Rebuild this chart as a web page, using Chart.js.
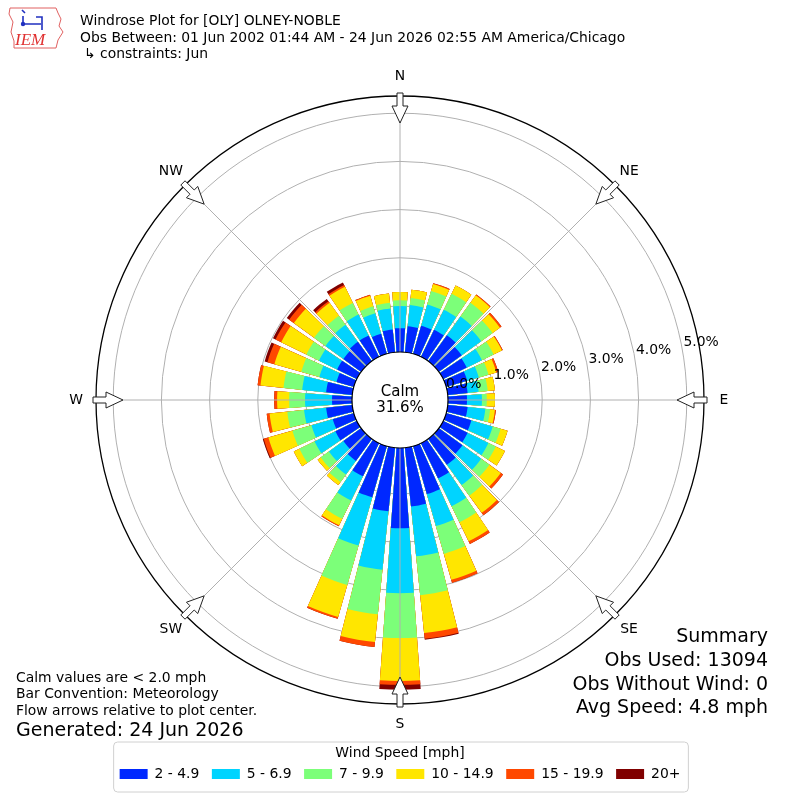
<!DOCTYPE html>
<html>
<head>
<meta charset="utf-8">
<title>Windrose Plot for [OLY] OLNEY-NOBLE</title>
<script src="https://cdn.jsdelivr.net/npm/chart.js@4.4.1/dist/chart.umd.min.js"></script>
<style>
  html, body { margin: 0; padding: 0; background: #fff; }
  #wrap { position: relative; width: 800px; height: 800px; font-family: 'DejaVu Sans', sans-serif; color: #000; }
  #wrap canvas { position: absolute; left: 0; top: 0; }
  .t { position: absolute; white-space: nowrap; font-size: 13.9px; line-height: 16px; }
  .big { font-size: 19px; line-height: 22px; }
  .r { right: 32px; text-align: right; }
  #logo { position: absolute; left: 6px; top: 4px; }
</style>
</head>
<body>
<div id="wrap">
  <canvas id="rose" width="800" height="800"></canvas>
  <svg id="logo" width="60" height="48" viewBox="0 0 60 48">
    <path d="M4 4 L50 4 L52 9 L55 15 L53 22 L57 28 L52 36 L50 44 L8 44 L8 37 L5 28 L7 18 L3 10 Z" fill="none" stroke="#e06060" stroke-width="1"/>
    <path d="M16 6 l3 3 M17 12 v8 M17 20 h18 M30 13 h6 v7 M36 20 v6" fill="none" stroke="#2030c0" stroke-width="1.6"/>
    <circle cx="17" cy="20" r="2.2" fill="#2030c0"/>
    <text x="9" y="41" font-family="Liberation Serif, serif" font-style="italic" font-size="17" fill="#e03030">IEM</text>
  </svg>
  <div class="t" style="left:80px;top:12px">Windrose Plot for [OLY] OLNEY-NOBLE</div>
  <div class="t" style="left:80px;top:29px">Obs Between: 01 Jun 2002 01:44 AM - 24 Jun 2026 02:55 AM America/Chicago</div>
  <div class="t" style="left:84px;top:45px">↳ constraints: Jun</div>

  <div class="t" style="left:16px;top:669px">Calm values are &lt; 2.0 mph</div>
  <div class="t" style="left:16px;top:685px">Bar Convention: Meteorology</div>
  <div class="t" style="left:16px;top:702px">Flow arrows relative to plot center.</div>
  <div class="t big" style="left:16px;top:718px">Generated: 24 Jun 2026</div>

  <div class="t big r" style="top:624px">Summary</div>
  <div class="t big r" style="top:648px">Obs Used: 13094</div>
  <div class="t big r" style="top:672px">Obs Without Wind: 0</div>
  <div class="t big r" style="top:695px">Avg Speed: 4.8 mph</div>
</div>

<script>
// direction bins (degrees, meteorological: where the wind comes from)
const directions = [0, 10, 20, 30, 40, 50, 60, 70, 80, 90, 100, 110,
                    120, 130, 140, 150, 160, 170, 180, 190, 200, 210, 220, 230,
                    240, 250, 260, 270, 280, 290, 300, 310, 320, 330, 340, 350];
const speedBins = ['2 - 4.9', '5 - 6.9', '7 - 9.9', '10 - 14.9', '15 - 19.9', '20+'];
const binColors = ['#0028ff', '#00d4ff', '#7cff79', '#ffe600', '#ff4800', '#800000'];

// frequency (%) per direction for each speed bin
const s2to5   = [0.54, 0.59, 0.65, 0.67, 0.71, 0.63, 0.59, 0.50, 0.46, 0.44, 0.46, 0.59,
                 0.61, 0.65, 0.71, 0.86, 1.08, 1.27, 1.71, 1.37, 1.15, 0.81, 0.61, 0.50,
                 0.54, 0.50, 0.59, 0.46, 0.59, 0.42, 0.50, 0.50, 0.54, 0.54, 0.48, 0.52];
const s5to7   = [0.46, 0.44, 0.46, 0.46, 0.48, 0.50, 0.35, 0.25, 0.23, 0.31, 0.37, 0.46,
                 0.48, 0.48, 0.52, 0.64, 0.69, 1.04, 1.35, 1.22, 1.04, 0.56, 0.35, 0.37,
                 0.48, 0.46, 0.46, 0.56, 0.50, 0.37, 0.42, 0.46, 0.44, 0.48, 0.44, 0.44];
const s7to10  = [0.12, 0.15, 0.29, 0.37, 0.35, 0.29, 0.27, 0.21, 0.19, 0.10, 0.10, 0.17,
                 0.17, 0.21, 0.27, 0.37, 0.60, 0.81, 0.93, 0.93, 0.85, 0.42, 0.19, 0.21,
                 0.35, 0.41, 0.35, 0.33, 0.39, 0.39, 0.29, 0.29, 0.23, 0.27, 0.15, 0.12];
const s10to15 = [0.17, 0.17, 0.15, 0.19, 0.19, 0.19, 0.19, 0.17, 0.15, 0.17, 0.10, 0.15,
                 0.21, 0.29, 0.44, 0.44, 0.56, 0.79, 0.89, 0.58, 0.69, 0.15, 0.08, 0.08,
                 0.13, 0.52, 0.37, 0.25, 0.48, 0.58, 0.58, 0.52, 0.33, 0.37, 0.23, 0.19];
const s15to20 = [0, 0, 0.02, 0, 0.02, 0.04, 0.02, 0.04, 0, 0, 0.02, 0,
                 0, 0.06, 0.06, 0.06, 0.06, 0.12, 0.08, 0.10, 0.04, 0.02, 0, 0,
                 0, 0.10, 0.06, 0.06, 0.06, 0.15, 0.13, 0.12, 0.04, 0.04, 0.02, 0];
const s20up   = [0, 0, 0, 0, 0, 0, 0, 0, 0, 0, 0, 0,
                 0, 0, 0, 0, 0, 0.02, 0.10, 0, 0, 0, 0, 0,
                 0, 0.02, 0, 0, 0, 0.06, 0.06, 0.06, 0.06, 0.06, 0, 0];

const tickValues = [0, 1, 2, 3, 4, 5];
const tickLabels = ['0.0%', '1.0%', '2.0%', '3.0%', '4.0%', '5.0%'];
const compassNames = ['N', 'NE', 'E', 'SE', 'S', 'SW', 'W', 'NW'];
const calmPct = 31.6;

// radial scale: 0% sits at the edge of the calm circle
const R_MIN = -0.95, R_MAX = 5.357;
const BAR_DEG = 8.2, GAP_DEG = 1.8;
const CALM_R = 48;

const seriesList = [s2to5, s5to7, s7to10, s10to15, s15to20, s20up];

// each bar slot is followed by an empty slot that makes the white gap
const labels = [];
directions.forEach(d => { labels.push(d + '°'); labels.push(''); });

// polar area arcs all start at the centre, so stack by drawing cumulative totals
let running = directions.map(() => 0);
const datasets = seriesList.map((vals, k) => {
  running = running.map((v, i) => v + vals[i]);
  const data = [];
  running.forEach(v => { data.push(+v.toFixed(3)); data.push(0); });
  return {
    label: speedBins[k],
    data: data,
    backgroundColor: c => (c.index % 2 ? 'rgba(0,0,0,0)' : binColors[k]),
    borderWidth: 0,
    angle: c => (c.index % 2 ? GAP_DEG : BAR_DEG)
  };
});

const roseDecor = {
  id: 'roseDecor',
  afterDraw(chart) {
    const ctx = chart.ctx;
    const s = chart.scales.r;
    const cx = s.xCenter, cy = s.yCenter, R = s.drawingArea;
    ctx.save();

    // spokes every 45 degrees
    ctx.strokeStyle = '#b0b0b0';
    ctx.lineWidth = 1;
    compassNames.forEach((n, i) => {
      const a = i * Math.PI / 4;
      ctx.beginPath();
      ctx.moveTo(cx + Math.sin(a) * CALM_R, cy - Math.cos(a) * CALM_R);
      ctx.lineTo(cx + Math.sin(a) * R, cy - Math.cos(a) * R);
      ctx.stroke();
    });

    // calm circle
    ctx.beginPath();
    ctx.arc(cx, cy, CALM_R, 0, Math.PI * 2);
    ctx.fillStyle = '#fff';
    ctx.fill();
    ctx.strokeStyle = '#000';
    ctx.lineWidth = 1.2;
    ctx.stroke();
    ctx.fillStyle = '#000';
    ctx.font = '15px "DejaVu Sans"';
    ctx.textAlign = 'center';
    ctx.textBaseline = 'middle';
    ctx.fillText('Calm', cx, cy - 8);
    ctx.fillText(calmPct.toFixed(1) + '%', cx, cy + 8);

    // percentage labels along a ray 10 degrees above east
    ctx.font = '13.9px "DejaVu Sans"';
    ctx.textAlign = 'left';
    const ra = 10 * Math.PI / 180;
    tickValues.forEach((v, i) => {
      const d = s.getDistanceFromCenterForValue(v);
      ctx.fillText(tickLabels[i], cx + d * Math.cos(ra) + 1, cy - d * Math.sin(ra) - 8);
    });

    // compass arrows and names
    ctx.textAlign = 'center';
    compassNames.forEach((n, i) => {
      const a = i * Math.PI / 4;
      const ux = Math.sin(a), uy = -Math.cos(a);
      const px = Math.cos(a), py = Math.sin(a);
      const pt = (r, w) => [cx + ux * r + px * w, cy + uy * r + py * w];
      const shape = [[R + 3, -3], [R - 10, -3], [R - 10, -8], [R - 27, 0],
                     [R - 10, 8], [R - 10, 3], [R + 3, 3]];
      ctx.beginPath();
      shape.forEach((p, j) => {
        const q = pt(p[0], p[1]);
        if (j === 0) ctx.moveTo(q[0], q[1]); else ctx.lineTo(q[0], q[1]);
      });
      ctx.closePath();
      ctx.fillStyle = '#fff';
      ctx.fill();
      ctx.strokeStyle = '#222';
      ctx.lineWidth = 1;
      ctx.stroke();
      ctx.fillStyle = '#000';
      const lp = pt(R + 20, 0);
      ctx.fillText(n, lp[0], lp[1]);
    });

    // frame round the legend
    const lg = chart.legend;
    if (lg && lg.legendHitBoxes && lg.legendHitBoxes.length) {
      const hb = lg.legendHitBoxes;
      const x0 = Math.min(...hb.map(h => h.left)) - 6;
      const x1 = Math.max(...hb.map(h => h.left + h.width)) + 8;
      const y0 = lg.top + 38, y1 = lg.top + 88, rr = 4;
      ctx.beginPath();
      ctx.moveTo(x0 + rr, y0);
      ctx.arcTo(x1, y0, x1, y1, rr);
      ctx.arcTo(x1, y1, x0, y1, rr);
      ctx.arcTo(x0, y1, x0, y0, rr);
      ctx.arcTo(x0, y0, x1, y0, rr);
      ctx.closePath();
      ctx.strokeStyle = '#d0d0d0';
      ctx.lineWidth = 1;
      ctx.stroke();
    }
    ctx.restore();
  }
};

Chart.defaults.font.family = '"DejaVu Sans", sans-serif';
Chart.defaults.color = '#000';

new Chart(document.getElementById('rose'), {
  type: 'polarArea',
  data: { labels: labels, datasets: datasets },
  options: {
    responsive: false,
    animation: false,
    layout: { padding: { left: 96, right: 96, top: 96, bottom: 9.05 } },
    scales: {
      r: {
        min: R_MIN,
        max: R_MAX,
        startAngle: -BAR_DEG / 2,
        z: 1,
        afterBuildTicks: axis => {
          axis.ticks = tickValues.concat([R_MAX]).map(v => ({ value: v }));
        },
        ticks: { display: false },
        grid: {
          circular: true,
          color: c => (c.tick && c.tick.value === R_MAX ? '#000' : '#b0b0b0'),
          lineWidth: c => (c.tick && c.tick.value === R_MAX ? 1.3 : 1)
        },
        angleLines: { display: false },
        pointLabels: { display: false }
      }
    },
    plugins: {
      legend: {
        position: 'bottom',
        onClick: () => {},
        title: {
          display: true,
          text: 'Wind Speed [mph]',
          color: '#000',
          font: { size: 13.9 },
          padding: { top: 42.05, bottom: -8.18 }
        },
        labels: {
          boxWidth: 28,
          boxHeight: 10,
          padding: 12.5,
          color: '#000',
          font: { size: 13.9 },
          generateLabels: chart => chart.data.datasets.map((ds, i) => ({
            text: ds.label,
            fillStyle: binColors[i],
            strokeStyle: binColors[i],
            lineWidth: 0,
            hidden: false,
            datasetIndex: i
          }))
        }
      },
      tooltip: { enabled: false }
    }
  },
  plugins: [roseDecor]
});
</script>
</body>
</html>
